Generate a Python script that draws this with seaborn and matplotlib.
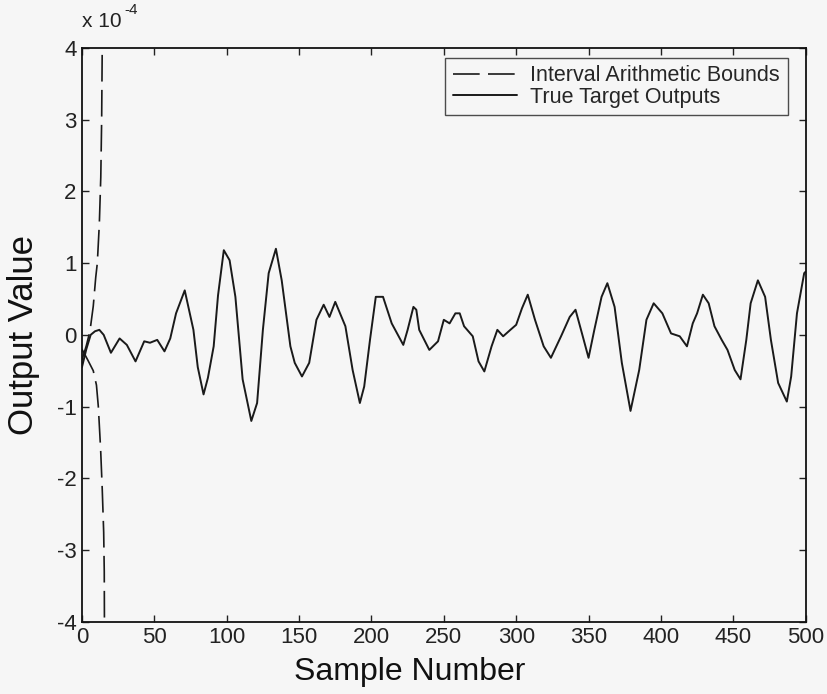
import matplotlib
matplotlib.use('Agg')
import matplotlib.pyplot as plt
import seaborn as sns

# ── data (values in units of 1e-4) ─────────────────────────────────────────
sample_no = [0, 3, 6, 9, 12, 15, 20, 26, 31, 37, 43, 47, 52, 57, 61, 65, 71,
             77, 80, 84, 87, 91, 94, 98, 102, 106, 111, 117, 121, 125, 129,
             134, 138, 144, 147, 152, 157, 162, 167, 171, 175, 182, 187, 192,
             195, 199, 203, 208, 214, 222, 225, 229, 231, 233, 240, 246, 250,
             254, 258, 261, 264, 270, 274, 278, 283, 287, 291, 296, 300, 304,
             308, 313, 319, 324, 331, 337, 341, 346, 350, 354, 359, 363, 368,
             373, 379, 385, 390, 395, 401, 407, 413, 418, 422, 425, 429, 433,
             437, 442, 446, 451, 455, 459, 462, 467, 472, 476, 481, 487, 490,
             494, 499, 500]
target_out = [-0.45, -0.2, 0.0, 0.05, 0.07, 0.0, -0.25, -0.05, -0.14, -0.37,
              -0.09, -0.11, -0.07, -0.23, -0.05, 0.30, 0.62, 0.07, -0.45,
              -0.83, -0.6, -0.16, 0.55, 1.18, 1.04, 0.53, -0.62, -1.20, -0.95,
              0.07, 0.86, 1.20, 0.76, -0.16, -0.39, -0.58, -0.39, 0.21, 0.42,
              0.25, 0.46, 0.12, -0.49, -0.95, -0.72, -0.07, 0.53, 0.53, 0.16,
              -0.14, 0.07, 0.39, 0.35, 0.07, -0.21, -0.09, 0.21, 0.16, 0.30,
              0.30, 0.12, -0.02, -0.37, -0.51, -0.16, 0.07, -0.02, 0.07, 0.14,
              0.37, 0.56, 0.21, -0.16, -0.32, -0.02, 0.25, 0.35, -0.02, -0.32,
              0.07, 0.53, 0.72, 0.39, -0.39, -1.06, -0.49, 0.21, 0.44, 0.30,
              0.02, -0.02, -0.16, 0.16, 0.30, 0.56, 0.44, 0.12, -0.07, -0.21,
              -0.49, -0.62, -0.07, 0.44, 0.76, 0.53, -0.07, -0.67, -0.93,
              -0.58, 0.30, 0.86, 0.88]

upper_x = [0, 3, 5.5, 7.8, 9.5, 10.6, 12, 13, 13.6, 14.2]
upper_y = [-0.35, -0.15, 0.05, 0.4, 0.8, 1.0, 1.55, 2.2, 3.0, 4.5]
lower_x = [0, 4, 7.8, 10, 11.3, 12.9, 14, 15, 15.4, 15.6]
lower_y = [-0.2, -0.35, -0.5, -0.7, -1.0, -1.6, -2.15, -2.75, -3.3, -4.5]

x_ticks = list(range(0, 501, 50))
y_ticks = list(range(-4, 5))

# ── style ──────────────────────────────────────────────────────────────────
sns.set_theme(style='white')
BG = '#f6f6f6'
INK = '#1a1a1a'
plt.rcParams.update({
    'font.family': ['Liberation Sans', 'DejaVu Sans'],
    'axes.unicode_minus': False,
    'figure.facecolor': BG,
    'axes.facecolor': BG,
    'axes.edgecolor': '#111111',
    'axes.linewidth': 1.3,
    'xtick.direction': 'in',
    'ytick.direction': 'in',
})
DASH = (0, (16, 5))

fig = plt.figure(figsize=(8.28, 6.94), dpi=100)
ax = fig.add_axes([0.099, 0.104, 0.874, 0.827])

sns.lineplot(x=upper_x, y=upper_y, ax=ax, color=INK, lw=1.2,
             linestyle=DASH, label='Interval Arithmetic Bounds')
sns.lineplot(x=lower_x, y=lower_y, ax=ax, color=INK, lw=1.2,
             linestyle=DASH, legend=False)
sns.lineplot(x=sample_no, y=target_out, ax=ax, color=INK, lw=1.4,
             label='True Target Outputs')

ax.set_xlim(0, 500)
ax.set_ylim(-4, 4)
ax.set_xticks(x_ticks)
ax.set_yticks(y_ticks)
tick_font = ['Liberation Sans Narrow', 'Liberation Sans', 'DejaVu Sans']
ax.set_xticklabels([str(v) for v in x_ticks], family=tick_font, fontsize=16)
ax.set_yticklabels([str(v) for v in y_ticks], family=tick_font, fontsize=16)
ax.tick_params(axis='both', which='both', length=5, width=1, color='#222222',
               top=True, right=True, bottom=True, left=True, pad=4,
               labelcolor='#222222')
for sp in ax.spines.values():
    sp.set_visible(True)

ax.set_xlabel('Sample Number', fontsize=23, color='#111111')
ax.xaxis.set_label_coords(0.453, -0.062, transform=ax.transAxes)
ax.xaxis.label.set_va('top')
ax.set_ylabel('Output Value', fontsize=25, color='#111111')
ax.yaxis.set_label_coords(-0.058, 0.5, transform=ax.transAxes)

# exponent multiplier in the top left corner
ax.text(0.0, 1.03, 'x 10', transform=ax.transAxes, fontsize=15,
        family=tick_font, color='#222222', ha='left', va='bottom')
ax.text(0.059, 1.053, '-4', transform=ax.transAxes, fontsize=11,
        family=tick_font, color='#222222', ha='left', va='bottom')

leg = ax.legend(loc='upper right', bbox_to_anchor=(0.975, 0.983),
                borderaxespad=0, fontsize=15.5, frameon=True, fancybox=False,
                edgecolor='#222222', facecolor=BG, handlelength=3.0,
                handletextpad=0.6, labelspacing=0.02, borderpad=0.35)
leg.get_frame().set_linewidth(1.0)

fig.savefig('out.png', dpi=100, facecolor=BG)
